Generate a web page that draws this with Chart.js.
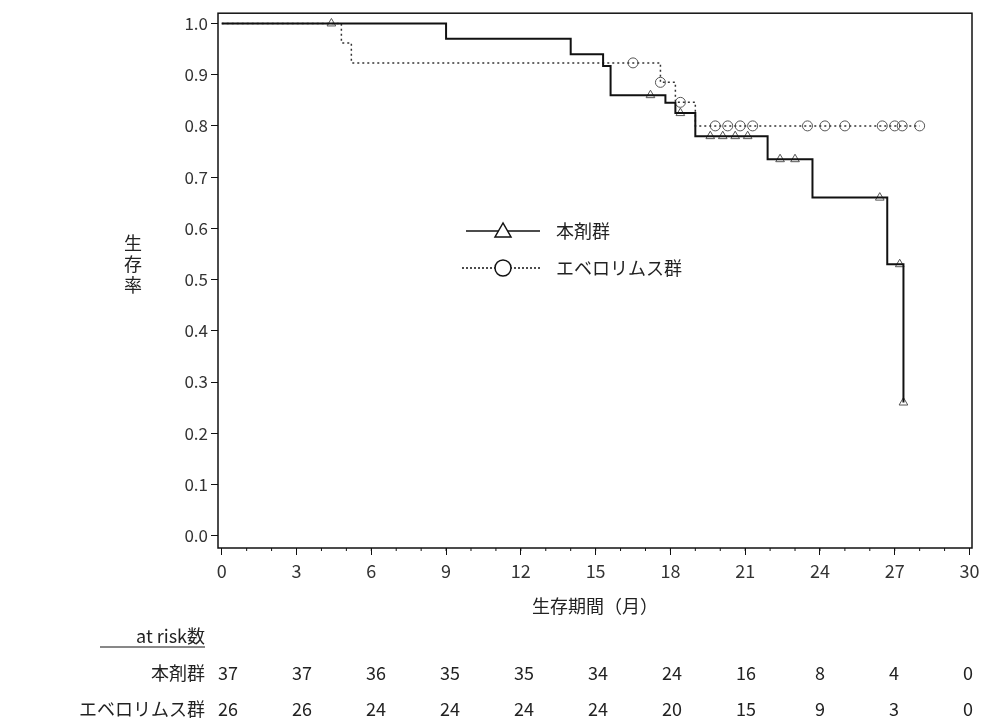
<!DOCTYPE html>
<html><head><meta charset="utf-8">
<script src="https://cdn.jsdelivr.net/npm/chart.js@4"></script>
<style>html,body{margin:0;background:#fff}#c{display:block}</style>
</head><body>
<div style="width:986px;height:726px"><canvas id="c"></canvas></div>
<script>
const FONT = '"Noto Sans CJK JP", "DejaVu Sans", sans-serif';

// 本剤群
const txTimes = [0, 9, 14, 15.3, 15.6, 17.8, 18.2, 19.0, 21.9, 23.7, 26.7, 27.35];
const txSurv  = [1, 0.97, 0.94, 0.917, 0.86, 0.845, 0.825, 0.78, 0.735, 0.66, 0.53, 0.26];
const txCensorT = [4.4, 17.2, 18.4, 19.6, 20.1, 20.6, 21.1, 22.4, 23.0, 26.4, 27.2, 27.35];
const txCensorS = [1.0, 0.86, 0.825, 0.78, 0.78, 0.78, 0.78, 0.735, 0.735, 0.66, 0.53, 0.26];

// エベロリムス群
const evTimes = [0, 4.8, 5.2, 17.6, 18.2, 19.0, 28];
const evSurv  = [1, 0.962, 0.923, 0.885, 0.846, 0.80, 0.80];
const evCensorT = [16.5, 17.6, 18.4, 19.8, 20.3, 20.8, 21.3, 23.5, 24.2, 25.0, 26.5, 27.0, 27.3, 28.0];
const evCensorS = [0.923, 0.885, 0.846, 0.80, 0.80, 0.80, 0.80, 0.80, 0.80, 0.80, 0.80, 0.80, 0.80, 0.80];

const xTicks = [0, 3, 6, 9, 12, 15, 18, 21, 24, 27, 30];
const yTicks = [0, 0.1, 0.2, 0.3, 0.4, 0.5, 0.6, 0.7, 0.8, 0.9, 1.0];
const riskGroups = ["本剤群", "エベロリムス群"];
const riskTx = [37, 37, 36, 35, 35, 34, 24, 16, 8, 4, 0];
const riskEv = [26, 26, 24, 24, 24, 24, 20, 15, 9, 3, 0];

const pts = (t, s) => t.map((v, i) => ({ x: v, y: s[i] }));

const extras = {
  id: "extras",
  afterDraw(chart) {
    const { ctx, chartArea: a, scales: { x } } = chart;
    ctx.save();
    ctx.strokeStyle = "#111";
    ctx.lineWidth = 1.5;
    ctx.strokeRect(a.left, a.top, a.right - a.left, a.bottom - a.top);
    ctx.lineWidth = 1;
    for (let m = 1; m < 30; m++) {
      const px = x.getPixelForValue(m);
      ctx.beginPath(); ctx.moveTo(px, a.bottom); ctx.lineTo(px, a.bottom + 3); ctx.stroke();
    }
    ctx.fillStyle = "#222";
    ctx.font = "18px " + FONT;
    ctx.textAlign = "center";
    ctx.textBaseline = "middle";
    ["生", "存", "率"].forEach((c, i) => ctx.fillText(c, 133, 243 + i * 21));
    ctx.fillText("生存期間（月）", 595, 606);
    ctx.textAlign = "right";
    ctx.fillText("at risk数", 205, 636);
    ctx.beginPath(); ctx.moveTo(100, 647); ctx.lineTo(205, 647); ctx.stroke();
    ctx.fillText(riskGroups[0], 205, 673);
    ctx.fillText(riskGroups[1], 205, 709);
    ctx.textAlign = "center";
    // the table's columns are spaced independently of the axis
    riskTx.forEach((n, i) => {
      const px = 228 + i * 74;
      ctx.fillText(String(n), px, 673);
      ctx.fillText(String(riskEv[i]), px, 709);
    });
    const ly1 = 231, ly2 = 268;
    ctx.lineWidth = 1.5;
    ctx.beginPath(); ctx.moveTo(466, ly1); ctx.lineTo(540, ly1); ctx.stroke();
    ctx.beginPath(); ctx.moveTo(503, ly1 - 8); ctx.lineTo(495, ly1 + 6); ctx.lineTo(511, ly1 + 6); ctx.closePath();
    ctx.fillStyle = "#fff"; ctx.fill(); ctx.stroke();
    ctx.setLineDash([2, 2]);
    ctx.beginPath(); ctx.moveTo(462, ly2); ctx.lineTo(540, ly2); ctx.stroke();
    ctx.setLineDash([]);
    ctx.beginPath(); ctx.arc(503, ly2, 8, 0, Math.PI * 2); ctx.fill(); ctx.stroke();
    ctx.fillStyle = "#222";
    ctx.textAlign = "left";
    ctx.fillText("本剤群", 556, ly1);
    ctx.fillText("エベロリムス群", 556, ly2);
    ctx.restore();
  }
};

new Chart(document.getElementById("c"), {
  type: "scatter",
  data: {
    datasets: [
      { data: pts(txTimes, txSurv), showLine: true, stepped: "before", borderColor: "#111", borderWidth: 2, pointRadius: 0 },
      { data: pts(evTimes, evSurv), showLine: true, stepped: "before", borderColor: "#333", borderWidth: 1.5, borderDash: [2, 3], pointRadius: 0 },
      { data: pts(txCensorT, txCensorS), pointStyle: "triangle", pointRadius: 5, borderColor: "#555", backgroundColor: "rgba(0,0,0,0)", borderWidth: 1 },
      { data: pts(evCensorT, evCensorS), pointStyle: "circle", pointRadius: 5, borderColor: "#555", backgroundColor: "rgba(0,0,0,0)", borderWidth: 1 }
    ]
  },
  options: {
    responsive: true, maintainAspectRatio: false, animation: false,
    layout: { padding: { top: 13, right: 14, left: 0, bottom: 0 } },
    plugins: { legend: { display: false }, tooltip: { enabled: false } },
    scales: {
      x: {
        type: "linear", min: -0.15, max: 30.1,
        afterBuildTicks: s => { s.ticks = xTicks.map(v => ({ value: v })); },
        afterFit: s => { s.height = 178; },
        grid: { drawOnChartArea: false, tickLength: 7, color: "#111" },
        border: { display: false },
        ticks: { color: "#333", font: { family: FONT, size: 18 }, padding: 5 }
      },
      y: {
        min: -0.024, max: 1.02,
        afterBuildTicks: s => { s.ticks = yTicks.map(v => ({ value: v })); },
        afterFit: s => { s.width = 218; },
        grid: { drawOnChartArea: false, tickLength: 7, color: "#111" },
        border: { display: false },
        ticks: { color: "#333", font: { family: FONT, size: 17 }, padding: 3, callback: v => v.toFixed(1) }
      }
    }
  },
  plugins: [extras]
});
</script>
</body></html>
